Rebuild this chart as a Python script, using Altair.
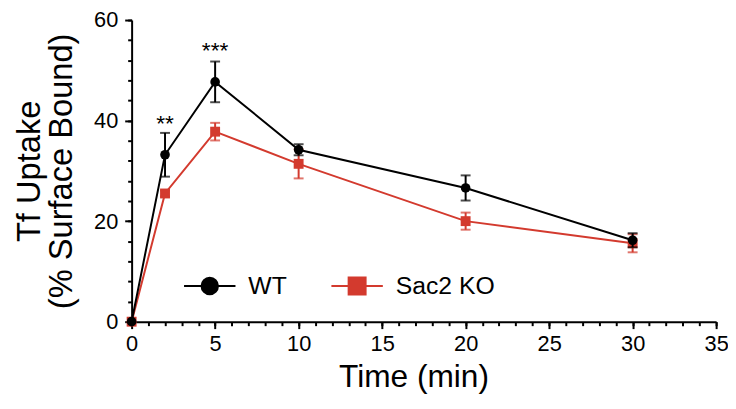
import altair as alt
import pandas as pd

times = [0, 2, 5, 10, 20, 30]
wt_mean = [0, 33.2, 47.7, 34.2, 26.6, 16.2]
wt_err = [0, 4.35, 4.05, 1.1, 2.5, 1.4]
ko_mean = [0, 25.5, 37.8, 31.4, 20.0, 15.6]
ko_err = [0, 0.6, 1.75, 2.9, 1.7, 1.8]
groups = ["WT", "Sac2 KO"]
colors = ["#000000", "#d33a2e"]
star_x = [2, 5]
star_y = [38.0, 52.4]
star_text = ["**", "***"]
x_major = list(range(0, 36, 5))
x_minor = list(range(0, 36))
y_major = list(range(0, 61, 20))
y_minor = list(range(0, 61, 4))

rows = []
for g, means, errs in [("WT", wt_mean, wt_err), ("Sac2 KO", ko_mean, ko_err)]:
    for t, m, e in zip(times, means, errs):
        rows.append(dict(time=t, group=g, mean=m, lo=m - e, hi=m + e, err=e))
df = pd.DataFrame(rows)
stars = pd.DataFrame(dict(time=star_x, mean=star_y, text=star_text))

FONT = "Liberation Sans"
xscale = alt.Scale(domain=[0, 35], nice=False, zero=False)
yscale = alt.Scale(domain=[0, 60], nice=False, zero=False)

common = dict(domainColor="black", domainWidth=2, tickColor="black", tickWidth=2, grid=False)
xaxis = alt.Axis(
    orient="bottom", values=x_major, tickSize=7,
    labelPadding=5, labelFontSize=22, labelFont=FONT, labelColor="black",
    titleFontSize=32, titleFont=FONT, titleFontWeight="normal", titleColor="black",
    titlePadding=8, titleX=285, labelFlush=False, labelOverlap=False, **common,
)
yaxis = alt.Axis(
    orient="left", values=y_major, tickSize=7,
    labelPadding=7, labelFontSize=22, labelFont=FONT, labelColor="black",
    titleFontSize=33, titleFont=FONT, titleFontWeight="normal", titleColor="black",
    titleLineHeight=33, titlePadding=15,
    labelFlush=False, labelOverlap=False, **common,
)
xaxis_minor = alt.Axis(orient="bottom", values=x_minor, tickSize=4, labels=False,
                       domain=False, title=None, tickColor="black", tickWidth=2, grid=False)
yaxis_minor = alt.Axis(orient="left", values=y_minor, tickSize=4, labels=False,
                       domain=False, title=None, tickColor="black", tickWidth=2, grid=False)
XT = "Time (min)"
YT = ["Tf Uptake", "(% Surface Bound)"]


def X():
    return alt.X("time:Q", scale=xscale, axis=xaxis, title=XT)


def Y(field):
    return alt.Y(f"{field}:Q", scale=yscale, axis=yaxis, title=YT)


base = alt.Chart(df)
layers = []
for g, col, shp, sz in [("Sac2 KO", colors[1], "square", 100), ("WT", colors[0], "circle", 95)]:
    b = base.transform_filter(alt.datum.group == g)
    bars = b.transform_filter("datum.err > 0")
    layers.append(b.mark_line(color=col, strokeWidth=2).encode(x=X(), y=Y("mean"), order="time:Q"))
    layers.append(bars.mark_rule(color=col, strokeWidth=2).encode(x=X(), y=Y("lo"), y2="hi:Q"))
    layers.append(bars.mark_tick(color=col, orient="horizontal", size=10, thickness=2).encode(x=X(), y=Y("lo")))
    layers.append(bars.mark_tick(color=col, orient="horizontal", size=10, thickness=2).encode(x=X(), y=Y("hi")))
    layers.append(b.mark_point(color=col, shape=shp, filled=True, size=sz, opacity=1).encode(x=X(), y=Y("mean")))

star_layer = alt.Chart(stars).mark_text(
    fontSize=23, font=FONT, color="black", align="center", baseline="alphabetic"
).encode(x=X(), y=Y("mean"), text="text:N")
layers.append(star_layer)
main = alt.layer(*layers)

circle_path = "M-1,0H1M-0.32,0A0.32,0.32,0,1,1,0.32,0A0.32,0.32,0,1,1,-0.32,0Z"
square_path = "M-1,0H1M-0.33,-0.33H0.33V0.33H-0.33Z"
leg = alt.Legend(title=None, orient="none", legendX=52, legendY=242, direction="horizontal")
legend_layer = base.mark_point(filled=True, opacity=0).encode(
    x=alt.X("time:Q", scale=xscale, axis=xaxis_minor, title=None),
    y=alt.Y("mean:Q", scale=yscale, axis=yaxis_minor, title=None),
    fill=alt.Fill("group:N", scale=alt.Scale(domain=groups, range=colors), legend=leg),
    stroke=alt.Stroke("group:N", scale=alt.Scale(domain=groups, range=colors), legend=leg),
    shape=alt.Shape("group:N", scale=alt.Scale(domain=groups, range=[circle_path, square_path]), legend=leg),
)

chart = alt.layer(main, legend_layer).resolve_axis(
    x="independent", y="independent"
).properties(
    width=591, height=305,
    autosize=alt.AutoSizeParams(type="none"),
    padding={"left": 125, "top": 10, "right": 12, "bottom": 76},
).configure_view(stroke=None).configure_legend(
    padding=0, labelFontSize=25, labelFont=FONT, labelColor="black", labelOffset=12,
    columnPadding=41, symbolSize=2704, symbolStrokeWidth=2, symbolOpacity=1,
)

chart.save("out.html", embed_options={"renderer": "svg", "actions": False})
